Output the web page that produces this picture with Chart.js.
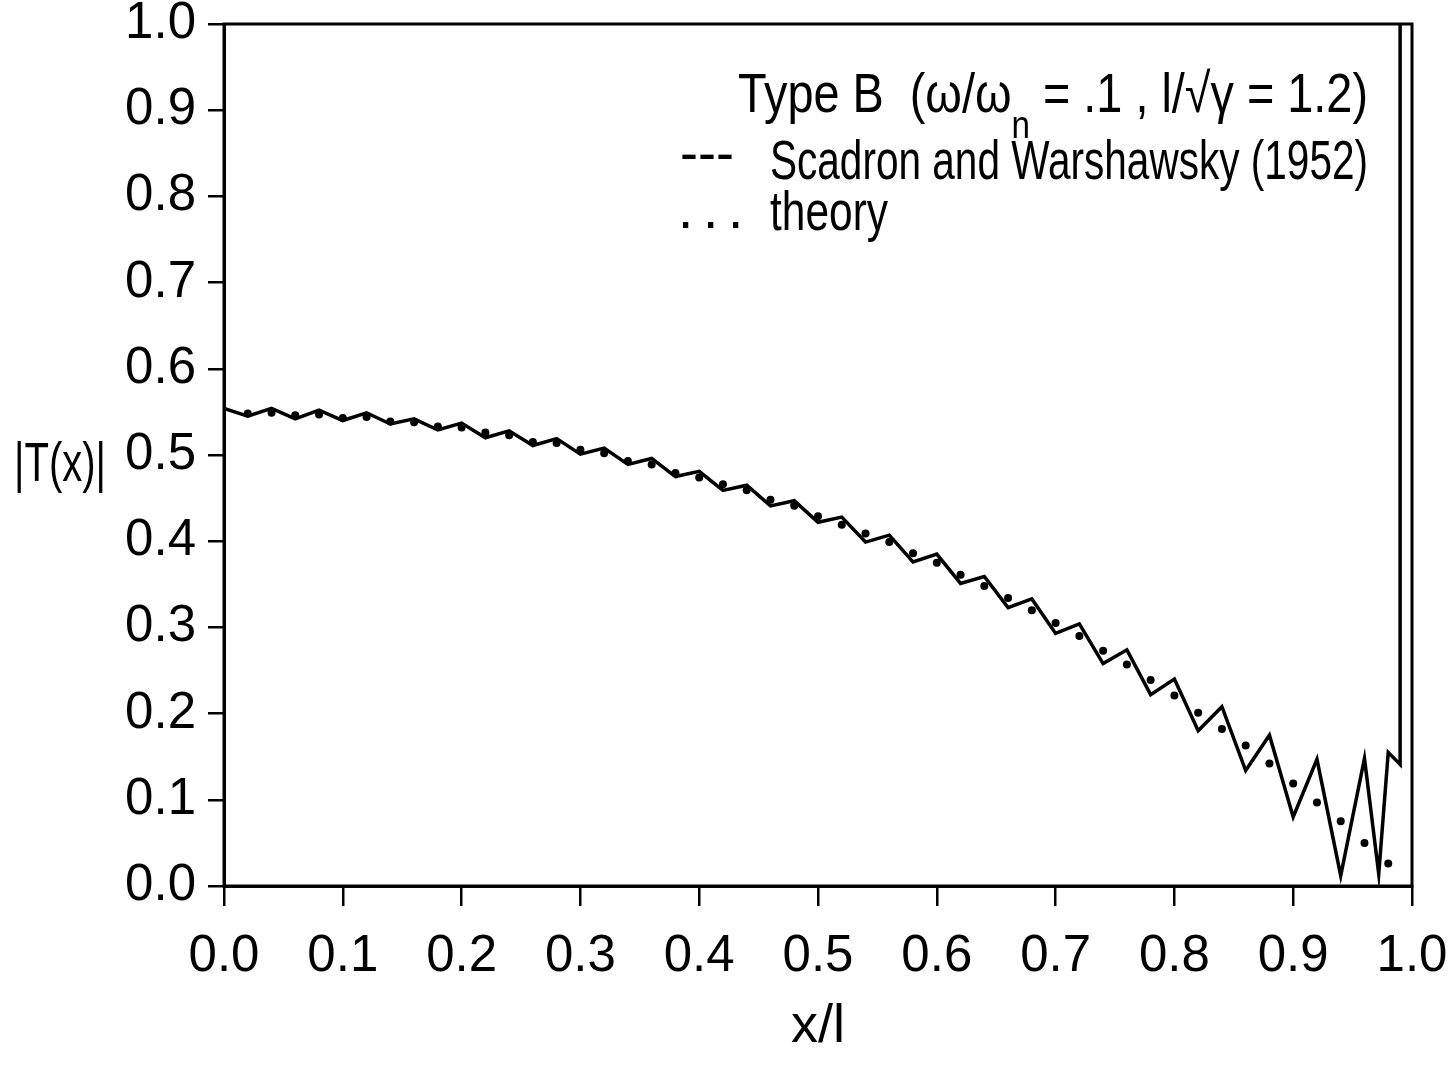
<!DOCTYPE html>
<html>
<head>
<meta charset="utf-8">
<script src="https://cdn.jsdelivr.net/npm/chart.js@4/dist/chart.umd.min.js"></script>
<style>
  html, body { margin: 0; padding: 0; background: #fff; }
  canvas { display: block; }
</style>
</head>
<body>
<canvas id="chart" width="1454" height="1066"></canvas>
<script>
// Scadron and Warshawsky (1952) - zigzag curve
const swX = [0, 0.02, 0.04, 0.06, 0.08, 0.10, 0.12, 0.14, 0.16, 0.18,
  0.20, 0.22, 0.24, 0.26, 0.28, 0.30, 0.32, 0.34, 0.36, 0.38,
  0.40, 0.42, 0.44, 0.46, 0.48, 0.50, 0.52, 0.54, 0.56, 0.58,
  0.60, 0.62, 0.64, 0.66, 0.68, 0.70, 0.72, 0.74, 0.76, 0.78,
  0.80, 0.82, 0.84, 0.86, 0.88, 0.90, 0.92, 0.94, 0.96, 0.972,
  0.98, 0.99, 0.99];
const swY = [0.554, 0.545, 0.554, 0.542, 0.552, 0.540, 0.549, 0.536, 0.542, 0.529,
  0.537, 0.520, 0.528, 0.511, 0.519, 0.501, 0.508, 0.489, 0.496, 0.475,
  0.481, 0.459, 0.465, 0.441, 0.447, 0.422, 0.428, 0.399, 0.407, 0.376,
  0.385, 0.351, 0.359, 0.323, 0.333, 0.293, 0.304, 0.258, 0.274, 0.222,
  0.240, 0.180, 0.208, 0.134, 0.175, 0.080, 0.147, 0.012, 0.148, 0.014,
  0.155, 0.141, 1.0];

// theory - dots
const thX = [0.02, 0.04, 0.06, 0.08, 0.10, 0.12, 0.14, 0.16, 0.18, 0.20,
  0.22, 0.24, 0.26, 0.28, 0.30, 0.32, 0.34, 0.36, 0.38, 0.40,
  0.42, 0.44, 0.46, 0.48, 0.50, 0.52, 0.54, 0.56, 0.58, 0.60,
  0.62, 0.64, 0.66, 0.68, 0.70, 0.72, 0.74, 0.76, 0.78, 0.80,
  0.82, 0.84, 0.86, 0.88, 0.90, 0.92, 0.94, 0.96, 0.98];
const thY = [0.548, 0.549, 0.546, 0.547, 0.543, 0.544, 0.539, 0.538, 0.533, 0.532,
  0.526, 0.523, 0.515, 0.514, 0.506, 0.502, 0.493, 0.489, 0.479, 0.474,
  0.466, 0.459, 0.448, 0.441, 0.429, 0.419, 0.409, 0.399, 0.386, 0.375,
  0.361, 0.348, 0.334, 0.320, 0.305, 0.290, 0.273, 0.257, 0.239, 0.221,
  0.201, 0.182, 0.163, 0.142, 0.119, 0.097, 0.075, 0.050, 0.026];

const tickVals = [0, 0.1, 0.2, 0.3, 0.4, 0.5, 0.6, 0.7, 0.8, 0.9, 1.0];
const tickLabels = ['0.0', '0.1', '0.2', '0.3', '0.4', '0.5', '0.6', '0.7', '0.8', '0.9', '1.0'];

const FAMILY = "'Liberation Sans', Arial, sans-serif";
const tickFont = { family: FAMILY, size: 51 };

function labelFor(v) {
  const i = tickVals.findIndex(t => Math.abs(t - v) < 1e-6);
  return i >= 0 ? tickLabels[i] : '';
}

// text squeezed sideways to the width it takes in the scan
function fitText(ctx, txt, x, y, w) {
  const m = ctx.measureText(txt).width;
  ctx.save();
  ctx.translate(x, y);
  ctx.scale(w / m, 1);
  ctx.fillText(txt, 0, 0);
  ctx.restore();
}

// box round the plot + texts that are not axis titles
const extras = {
  id: 'extras',
  afterDraw(chart) {
    const { ctx, chartArea: a } = chart;
    ctx.save();
    ctx.strokeStyle = '#000';
    ctx.lineWidth = 3;
    ctx.strokeRect(a.left, a.top, a.right - a.left, a.bottom - a.top);

    ctx.fillStyle = '#000';
    ctx.textAlign = 'left';
    ctx.textBaseline = 'alphabetic';
    const f = 55;
    const big = f + 'px ' + FAMILY;
    const small = Math.round(f * 0.7) + 'px ' + FAMILY;

    // y title
    ctx.font = big;
    fitText(ctx, '|T(x)|', 14, 481, 92);

    // legend line 1 with subscript, squeezed to the scan width
    const p1 = 'Type B  (\u03c9/\u03c9';
    const sub = 'n';
    const p2 = ' = .1 , l/\u221a\u03b3 = 1.2)';
    const w1 = ctx.measureText(p1).width;
    ctx.font = small;
    const ws = ctx.measureText(sub).width;
    ctx.font = big;
    const w2 = ctx.measureText(p2).width;
    const k = 630 / (w1 + ws + w2);
    ctx.save();
    ctx.translate(738, 0);
    ctx.scale(k, 1);
    ctx.fillText(p1, 0, 112);
    ctx.font = small;
    ctx.fillText(sub, w1, 138);
    ctx.font = big;
    ctx.fillText(p2, w1 + ws, 112);
    ctx.restore();

    // legend line 2
    fitText(ctx, '---', 680, 172, 54);
    fitText(ctx, 'Scadron and Warshawsky (1952)', 770, 179, 598);

    // legend line 3
    ctx.fillText('.', 678, 228);
    ctx.fillText('.', 703, 228);
    ctx.fillText('.', 728, 228);
    fitText(ctx, 'theory', 770, 230, 118);
    ctx.restore();
  }
};

const ctx = document.getElementById('chart').getContext('2d');
new Chart(ctx, {
  type: 'scatter',
  data: {
    datasets: [
      {
        label: 'Scadron and Warshawsky (1952)',
        data: swX.map((x, i) => ({ x: x, y: swY[i] })),
        showLine: true,
        borderColor: '#000',
        borderWidth: 3.5,
        pointRadius: 0,
        tension: 0,
        fill: false
      },
      {
        label: 'theory',
        data: thX.map((x, i) => ({ x: x, y: thY[i] })),
        showLine: false,
        pointRadius: 4,
        pointBackgroundColor: '#000',
        pointBorderWidth: 0
      }
    ]
  },
  options: {
    responsive: false,
    animation: false,
    devicePixelRatio: 1,
    layout: { padding: { top: 24, right: 42, bottom: 0, left: 0 } },
    plugins: {
      legend: { display: false },
      tooltip: { enabled: false }
    },
    scales: {
      x: {
        type: 'linear',
        min: 0,
        max: 1,
        afterBuildTicks: s => { s.ticks = tickVals.map(v => ({ value: v })); },
        afterFit: s => { s.height = 180; s.paddingLeft = 0; s.paddingRight = 0; },
        ticks: {
          callback: v => labelFor(v),
          font: tickFont,
          color: '#000',
          padding: 20,
          maxRotation: 0,
          autoSkip: false
        },
        grid: { drawOnChartArea: false, tickLength: 20, color: '#000', lineWidth: 2.5 },
        border: { color: '#000', width: 3 },
        title: {
          display: true,
          text: 'x/l',
          color: '#000',
          font: { family: FAMILY, size: 54 },
          padding: { top: 0, bottom: 6 }
        }
      },
      y: {
        type: 'linear',
        min: 0,
        max: 1,
        afterBuildTicks: s => { s.ticks = tickVals.map(v => ({ value: v })); },
        afterFit: s => { s.width = 224; s.paddingTop = 0; s.paddingBottom = 0; },
        ticks: {
          callback: v => labelFor(v),
          font: tickFont,
          color: '#000',
          padding: 12,
          autoSkip: false
        },
        grid: { drawOnChartArea: false, tickLength: 16, color: '#000', lineWidth: 2.5 },
        border: { color: '#000', width: 3 }
      }
    }
  },
  plugins: [extras]
});
</script>
</body>
</html>
